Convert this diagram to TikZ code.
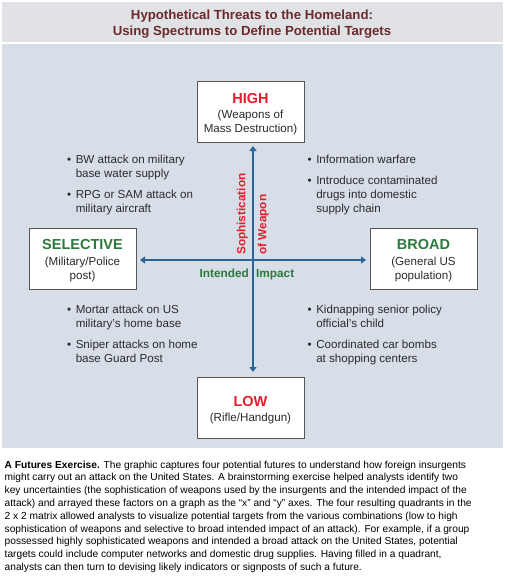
\documentclass[tikz,border=0pt]{standalone}
\usepackage{fontspec}
\setmainfont{Liberation Sans}
\usetikzlibrary{arrows.meta}
\definecolor{titlebg}{HTML}{E1E2E6}
\definecolor{panelbg}{HTML}{D7DEE8}
\definecolor{titlefg}{HTML}{6B2A2A}
\definecolor{hired}{HTML}{E41E2B}
\definecolor{dgreen}{HTML}{2B7A3B}
\definecolor{axisblue}{HTML}{2D6595}
\definecolor{bodytxt}{HTML}{2B2B2B}
\definecolor{boxline}{HTML}{555555}
\tikzset{
  catbox/.style={draw=boxline, line width=0.9pt, fill=white, minimum width=107pt, minimum height=61pt, inner sep=0pt},
  axisarrow/.style={draw=axisblue, line width=1.4pt, {Triangle[width=7pt,length=5pt]}-{Triangle[width=7pt,length=5pt]}},
  bigred/.style={font=\fontsize{14.5}{16}\selectfont\bfseries, text=hired, anchor=base, inner sep=0pt},
  biggreen/.style={font=\fontsize{14.5}{16}\selectfont\bfseries, text=dgreen, anchor=base, inner sep=0pt},
  sub/.style={font=\fontsize{11.6}{14}\selectfont, text=bodytxt, anchor=base, inner sep=0pt, align=center},
  bullets/.style={font=\fontsize{11.6}{14}\selectfont, text=bodytxt, anchor=base west, inner sep=0pt},
  axlabel/.style={font=\fontsize{11.8}{12}\selectfont\bfseries, inner sep=0pt}
}
\newcommand{\itemgap}{\noalign{\vskip7pt}}
\begin{document}
\begin{tikzpicture}[x=1pt,y=-1pt]
\useasboundingbox (0,0) rectangle (505,576);
\fill[white] (0,0) rectangle (505,576);
% panels
\fill[titlebg] (2,2) rectangle (503,42);
\fill[panelbg] (2,44) rectangle (503,448);
% title
\node[font=\fontsize{13.2}{15}\selectfont\bfseries, text=titlefg, anchor=base, inner sep=0pt] (t1) at (252,19.5) {Hypothetical Threats to the Homeland:};
\node[font=\fontsize{13.2}{15}\selectfont\bfseries, text=titlefg, anchor=base, inner sep=0pt] (t2) at (252,35) {Using Spectrums to Define Potential Targets};
% boxes
\node[catbox] (high) at (250.5,111.5) {};
\node[catbox] (low) at (250.5,407.5) {};
\node[catbox] (sel) at (82.5,258.5) {};
\node[catbox] (broad) at (423.5,258.5) {};
% box texts (base = last line)
\node[bigred] (hight) at (250.5,103) {HIGH};
\node[sub] (highs) at (250.5,132) {(Weapons of\\Mass Destruction)};
\node[bigred] (lowt) at (250.5,406) {LOW};
\node[sub] (lows) at (250.5,421) {(Rifle/Handgun)};
\node[biggreen] (selt) at (82.5,249) {SELECTIVE};
\node[sub] (sels) at (82.5,279) {(Military/Police\\post)};
\node[biggreen] (broadt) at (423.5,249) {BROAD};
\node[sub] (broads) at (423.5,279) {(General US\\population)};
% axes
\coordinate (vt) at (253,146);
\coordinate (vb) at (253,372);
\coordinate (hl) at (140,260);
\coordinate (hr) at (366,260);
\draw[axisarrow] (vb) -- (vt);
\draw[axisarrow] (hl) -- (hr);
% axis labels
\node[axlabel, text=hired, rotate=90, anchor=south west] (soph) at (248,255) {Sophistication};
\node[axlabel, text=hired, rotate=90, anchor=north west] (weap) at (257.5,255) {of Weapon};
\node[axlabel, text=dgreen, anchor=base east] (intd) at (249,277) {Intended};
\node[axlabel, text=dgreen, anchor=base west] (impc) at (256,277) {Impact};
% quadrants
\node[bullets] (q1) at (67,163) {\begin{tabular}[t]{@{}l@{\hspace{4.5pt}}l@{}}
\textbullet & BW attack on military\\ & base water supply\\\itemgap
\textbullet & RPG or SAM attack on\\ & military aircraft\end{tabular}};
\node[bullets] (q2) at (307.5,163) {\begin{tabular}[t]{@{}l@{\hspace{4.5pt}}l@{}}
\textbullet & Information warfare\\\itemgap
\textbullet & Introduce contaminated\\ & drugs into domestic\\ & supply chain\end{tabular}};
\node[bullets] (q3) at (67,313) {\begin{tabular}[t]{@{}l@{\hspace{4.5pt}}l@{}}
\textbullet & Mortar attack on US\\ & military's home base\\\itemgap
\textbullet & Sniper attacks on home\\ & base Guard Post\end{tabular}};
\node[bullets] (q4) at (307.5,313) {\begin{tabular}[t]{@{}l@{\hspace{4.5pt}}l@{}}
\textbullet & Kidnapping senior policy\\ & official's child\\\itemgap
\textbullet & Coordinated car bombs\\ & at shopping centers\end{tabular}};
% caption (base = last line)
\node[font=\fontsize{10.2}{12.8}\selectfont, text=black, anchor=base west, inner sep=0pt, align=left] (cap) at (4.5,570.4) {\textbf{A Futures Exercise.} The graphic captures four potential futures to understand how foreign insurgents\\
might carry out an attack on the United States. A brainstorming exercise helped analysts identify two\\
key uncertainties (the sophistication of weapons used by the insurgents and the intended impact of the\\
attack) and arrayed these factors on a graph as the “x” and “y” axes. The four resulting quadrants in the\\
2 x 2 matrix allowed analysts to visualize potential targets from the various combinations (low to high\\
sophistication of weapons and selective to broad intended impact of an attack). For example, if a group\\
possessed highly sophisticated weapons and intended a broad attack on the United States, potential\\
targets could include computer networks and domestic drug supplies. Having filled in a quadrant,\\
analysts can then turn to devising likely indicators or signposts of such a future.};
\end{tikzpicture}
\end{document}
